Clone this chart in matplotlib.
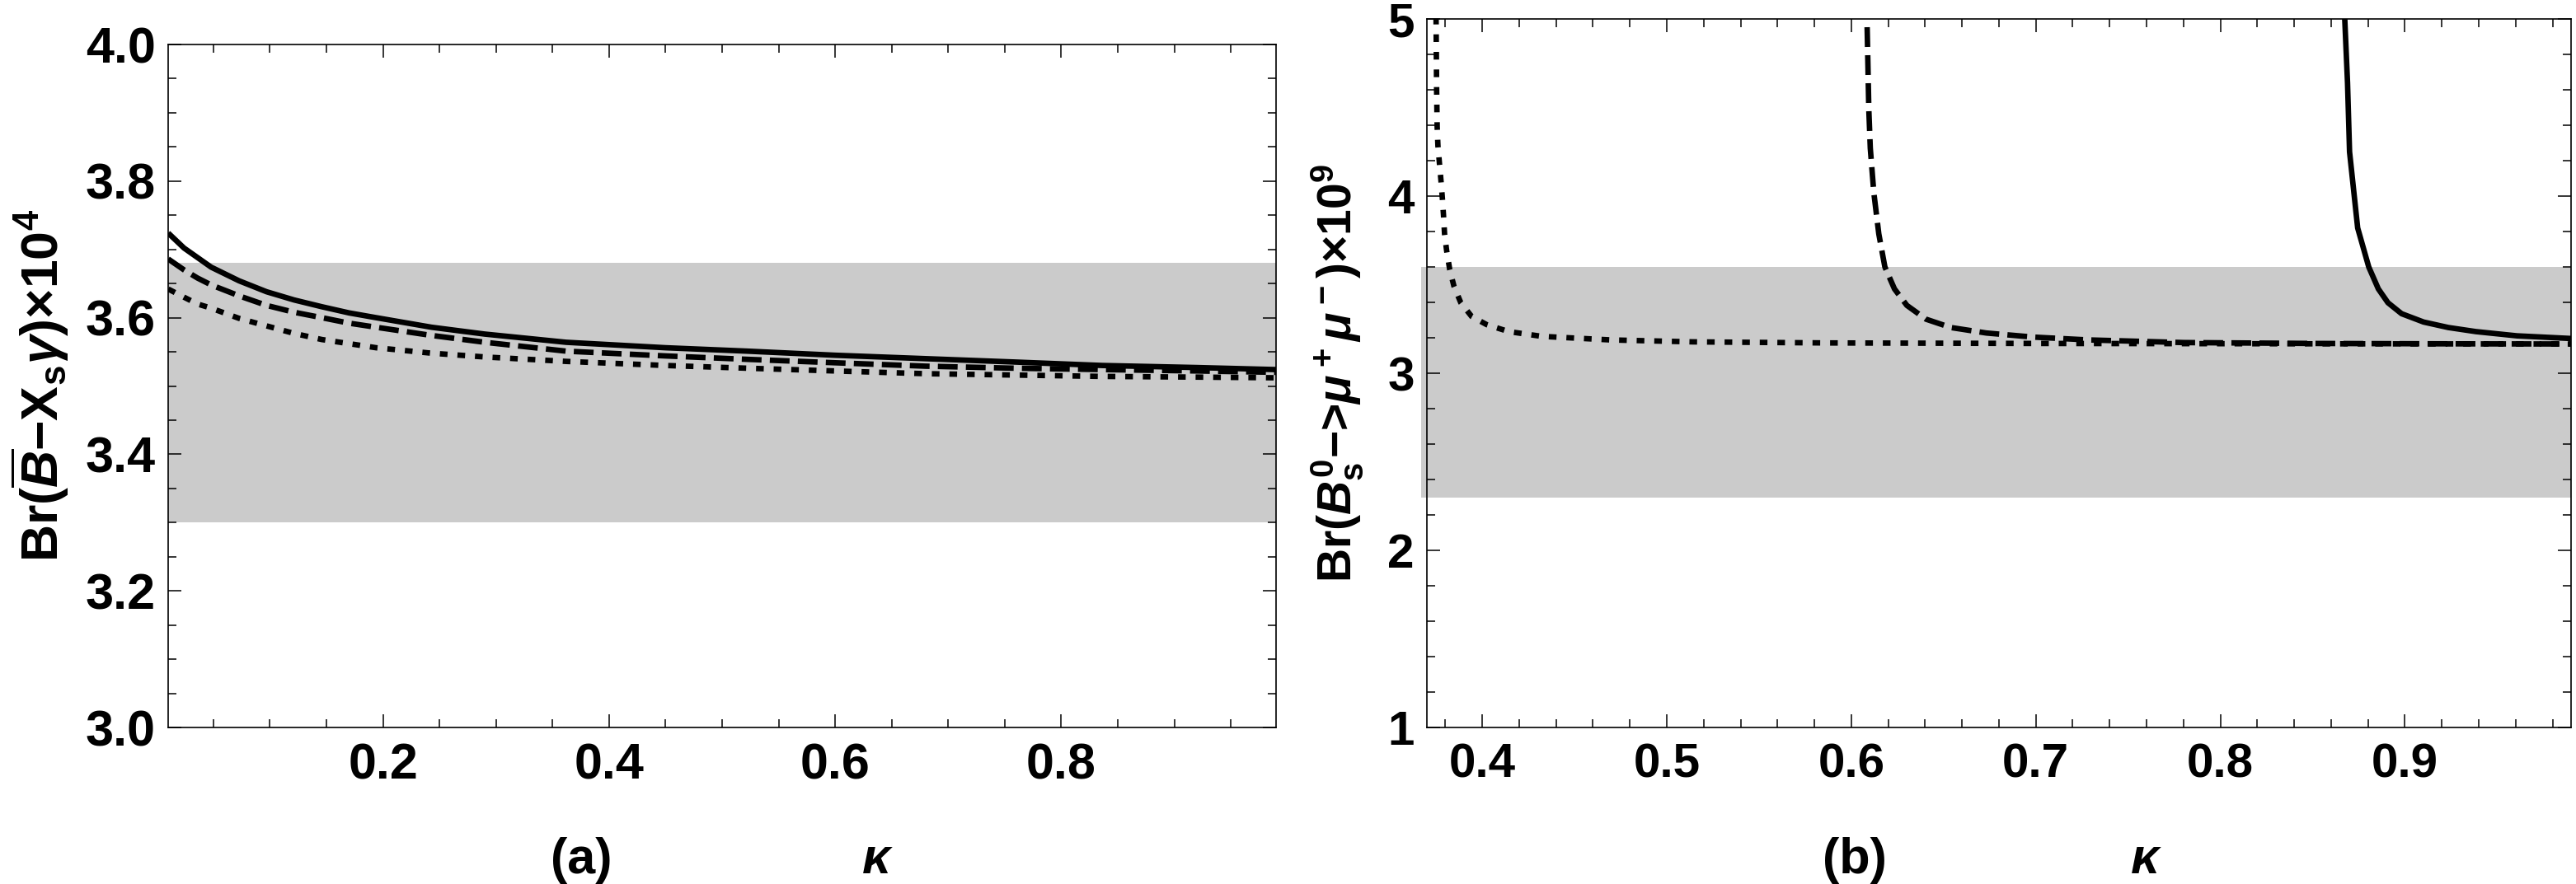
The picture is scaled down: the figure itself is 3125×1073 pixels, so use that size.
import matplotlib
matplotlib.use("Agg")
import matplotlib.pyplot as plt
from matplotlib.ticker import MultipleLocator, FormatStrFormatter

plt.rcParams["font.family"] = ["Liberation Sans", "DejaVu Sans"]
plt.rcParams["font.weight"] = "bold"
plt.rcParams["mathtext.fontset"] = "custom"
plt.rcParams["mathtext.rm"] = "Liberation Sans:bold"
plt.rcParams["mathtext.bf"] = "Liberation Sans:bold"
plt.rcParams["mathtext.it"] = "Liberation Sans:italic:bold"

# ---- panel (a): Br(B -> Xs gamma) x 10^4 vs kappa
kappa_a = [0.01, 0.024, 0.036, 0.048, 0.0727, 0.097, 0.1213, 0.146, 0.170, 0.194, 0.243, 0.29,
           0.362, 0.45, 0.5225, 0.60, 0.68, 0.76, 0.8365, 0.92, 0.99]
br_a_solid = [3.724, 3.702, 3.688, 3.674, 3.654, 3.638, 3.626, 3.616, 3.607, 3.600, 3.586, 3.576,
              3.564, 3.556, 3.551, 3.545, 3.540, 3.535, 3.530, 3.527, 3.524]
br_a_dashed = [3.686, 3.670, 3.658, 3.648, 3.632, 3.618, 3.608, 3.600, 3.592, 3.586, 3.574, 3.564,
               3.551, 3.544, 3.539, 3.534, 3.529, 3.526, 3.524, 3.522, 3.520]
br_a_dotted = [3.642, 3.630, 3.620, 3.614, 3.599, 3.588, 3.577, 3.568, 3.562, 3.556, 3.548, 3.5425,
               3.536, 3.530, 3.526, 3.522, 3.518, 3.516, 3.514, 3.513, 3.512]
band_a = (3.30, 3.68)

# ---- panel (b): Br(Bs -> mu mu) x 10^9 vs kappa
kappa_b_dotted = [0.3746, 0.3750, 0.3753, 0.3756, 0.3760, 0.3769, 0.3777, 0.3784, 0.3790, 0.3796, 0.3807,
                  0.3824, 0.3847, 0.3884, 0.3943, 0.4025, 0.4144, 0.4323, 0.4695, 0.514, 0.5855, 0.70, 0.85, 0.99]
br_b_dotted = [5.15, 5.0, 4.60, 4.39, 4.285, 4.176, 4.082, 3.989, 3.896, 3.787, 3.694,
               3.585, 3.491, 3.398, 3.320, 3.274, 3.235, 3.208, 3.188, 3.177, 3.171, 3.168, 3.166, 3.165]
kappa_b_dashed = [0.6083, 0.6085, 0.6089, 0.6095, 0.6103, 0.6122, 0.6149, 0.6182, 0.6234, 0.6301, 0.6405,
                  0.6539, 0.6732, 0.6985, 0.7283, 0.7803, 0.85, 0.92, 0.99]
br_b_dashed = [5.15, 5.0, 4.80, 4.487, 4.27, 4.02, 3.787, 3.60, 3.476, 3.383, 3.305,
               3.258, 3.227, 3.204, 3.188, 3.173, 3.168, 3.166, 3.165]
kappa_b_solid = [0.8672, 0.8674, 0.8689, 0.8700, 0.8744, 0.8804, 0.8856, 0.8908, 0.8982, 0.9101, 0.9235,
                 0.9384, 0.9607, 0.99]
br_b_solid = [5.1, 5.0, 4.64, 4.25, 3.82, 3.60, 3.476, 3.398, 3.336, 3.289, 3.258, 3.235, 3.211, 3.196]
band_b = (2.3, 3.6)

LW = 4.8
DASHED = (0, (3.6, 1.5))
DOTTED = (0, (1.4, 1.8))
BAND = "#cbcbcb"


def style_axes(ax, label_size):
    for sp in ax.spines.values():
        sp.set_linewidth(1.2)
    ax.tick_params(which="both", direction="in", top=True, right=True, width=1.1,
                   labelsize=label_size)
    ax.tick_params(which="major", length=11.5)
    ax.tick_params(which="minor", length=7)
    ax.tick_params(axis="y", pad=11)
    ax.tick_params(axis="x", pad=13)


fig = plt.figure(figsize=(31.25, 10.73), dpi=100)

ax1 = fig.add_axes([0.06528, 0.17707, 0.43008, 0.77260])
ax1.axhspan(*band_a, color=BAND, lw=0, zorder=0)
ax1.plot(kappa_a, br_a_solid, color="black", lw=LW, solid_capstyle="butt")
ax1.plot(kappa_a, br_a_dashed, color="black", lw=LW, ls=DASHED)
ax1.plot(kappa_a, br_a_dotted, color="black", lw=LW, ls=DOTTED)
ax1.set_xlim(0.01, 0.99)
ax1.set_ylim(3.0, 4.0)
ax1.xaxis.set_major_locator(MultipleLocator(0.2))
ax1.xaxis.set_minor_locator(MultipleLocator(0.05))
ax1.yaxis.set_major_locator(MultipleLocator(0.2))
ax1.yaxis.set_minor_locator(MultipleLocator(0.05))
ax1.xaxis.set_major_formatter(FormatStrFormatter("%.1f"))
ax1.yaxis.set_major_formatter(FormatStrFormatter("%.1f"))
style_axes(ax1, 44)

ax2 = fig.add_axes([0.5539, 0.17707, 0.44416, 0.80149])
ax2.axhspan(*band_b, xmin=-0.005, xmax=1.0, color=BAND, lw=0, zorder=0, clip_on=False)
ax2.plot(kappa_b_dotted, br_b_dotted, color="black", lw=LW, ls=DOTTED)
ax2.plot(kappa_b_dashed, br_b_dashed, color="black", lw=LW, ls=DASHED)
ax2.plot(kappa_b_solid, br_b_solid, color="black", lw=LW, solid_capstyle="butt")
ax2.set_xlim(0.37, 0.99)
ax2.set_ylim(1, 5)
ax2.xaxis.set_major_locator(MultipleLocator(0.1))
ax2.xaxis.set_minor_locator(MultipleLocator(0.02))
ax2.yaxis.set_major_locator(MultipleLocator(1))
ax2.yaxis.set_minor_locator(MultipleLocator(0.2))
ax2.xaxis.set_major_formatter(FormatStrFormatter("%.1f"))
ax2.yaxis.set_major_formatter(FormatStrFormatter("%d"))
style_axes(ax2, 42)

fig.text(0.0154, 0.5638, r"Br($\overline{B}$−X$_\mathrm{s}$$\gamma$)×10$^4$",
         rotation=90, ha="center", va="center", fontsize=45)
fig.text(0.519, 0.5778, r"Br($B_\mathrm{s}^0$−>$\mu^+\mu^-$)×10$^9$",
         rotation=90, ha="center", va="center", fontsize=41)

base_y = 13 / 1073
fig.text(705 / 3125, base_y, "(a)", ha="center", va="baseline", fontsize=44)
fig.text(1064 / 3125, base_y, r"$\kappa$", ha="center", va="baseline", fontsize=44)
fig.text(2250 / 3125, base_y, "(b)", ha="center", va="baseline", fontsize=44)
fig.text(2603 / 3125, base_y, r"$\kappa$", ha="center", va="baseline", fontsize=44)

fig.savefig("out.png", dpi=100)
plt.close(fig)
